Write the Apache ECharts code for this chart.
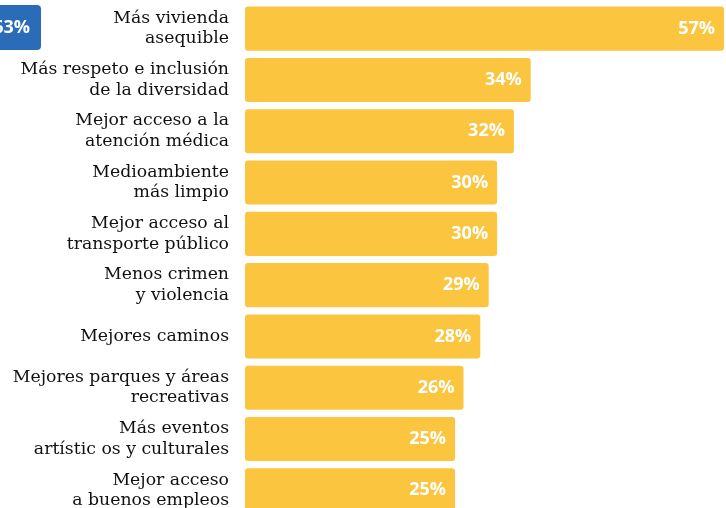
<!DOCTYPE html>
<html><head><meta charset="utf-8">
<script src="https://cdn.jsdelivr.net/npm/echarts@6/dist/echarts.min.js"></script>
<style>html,body{margin:0;padding:0;overflow:hidden;background:#fff}#c{width:726px;height:516px}</style>
</head><body><div id="c"></div>
<script>
const categories = [
  "Más vivienda\nasequible",
  "Más respeto e inclusión\nde la diversidad",
  "Mejor acceso a la\natención médica",
  "Medioambiente\nmás limpio",
  "Mejor acceso al\ntransporte público",
  "Menos crimen\ny violencia",
  "Mejores caminos",
  "Mejores parques y áreas\nrecreativas",
  "Más eventos\nartístic os y culturales",
  "Mejor acceso\na buenos empleos"
];
const values = [57, 34, 32, 30, 30, 29, 28, 26, 25, 25];
const badgeText = "63%";

const chart = echarts.init(document.getElementById('c'));
chart.setOption({
  animation: false,
  grid: { left: 245, right: 2, top: 3, bottom: 0, containLabel: false },
  xAxis: { type: 'value', min: 0, max: 57, show: false },
  yAxis: {
    type: 'category', data: categories, inverse: true,
    axisLine: { show: false }, axisTick: { show: false },
    axisLabel: { margin: 16, color: '#111', fontFamily: 'DejaVu Serif', fontSize: 17.3, lineHeight: 20.5, align: 'right' }
  },
  series: [{
    type: 'bar', data: values, barWidth: '86%',
    itemStyle: { color: '#FBC540', borderRadius: 3 },
    label: { show: true, position: 'insideRight', formatter: '{c}%', color: '#fff', fontFamily: 'Open Sans', fontWeight: 'bold', fontSize: 18, distance: 9 }
  }],
  graphic: [{
    type: 'group', left: -10, top: 5,
    children: [
      { type: 'rect', shape: { x: 0, y: 0, width: 51, height: 45, r: 4 }, style: { fill: '#2B6CB8' } },
      { type: 'text', x: 40, y: 23, style: { text: badgeText, fill: '#fff', font: 'bold 18px "Open Sans"', align: 'right', verticalAlign: 'middle' } }
    ]
  }]
});
</script></body></html>
